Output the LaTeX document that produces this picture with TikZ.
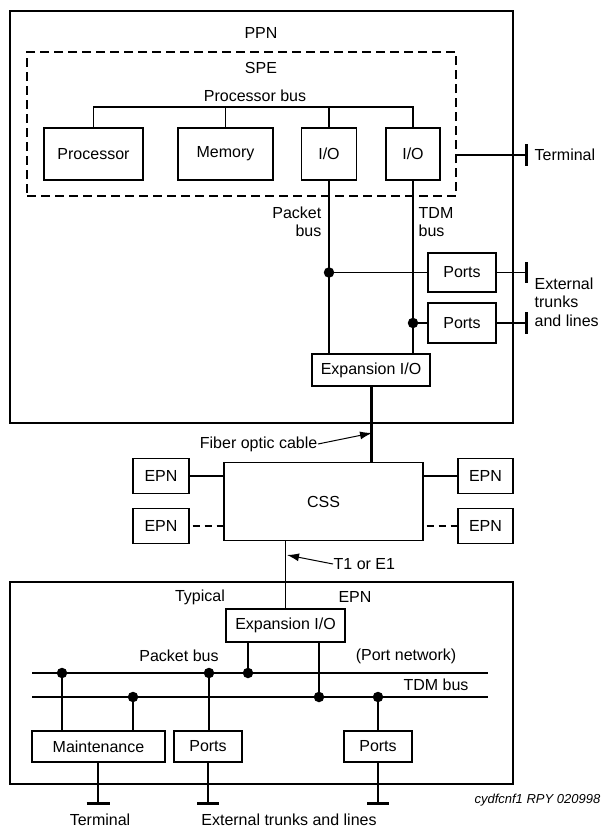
\documentclass[tikz,border=0pt]{standalone}
\usepackage{fontspec}
\setmainfont{Liberation Sans}
\usetikzlibrary{arrows.meta}

\begin{document}
\begin{tikzpicture}[x=1pt, y=-1pt, font=\fontsize{16}{18}\selectfont, line width=1.4pt]
        \useasboundingbox (0,0) rectangle (603,828);
        \begin{scope}[every node/.style={draw, line width=1.4pt, rectangle, inner sep=0}]
            \node [minimum width=503pt, minimum height=412pt] (ppn) at (261.5,217) {};
            \node [dash pattern=on 9pt off 5pt, line width=1.8pt, minimum width=429pt, minimum height=144pt] (spe) at (241.5,124) {};
            \node [minimum width=99pt, minimum height=52pt] (proc) at (93.5,154) {Processor};
            \node [minimum width=95pt, minimum height=52pt] (mem) at (225.5,154) {Memory};
            \node [minimum width=55pt, minimum height=52pt] (io1) at (329,154) {I/O};
            \node [minimum width=54pt, minimum height=52pt] (io2) at (413,154) {I/O};
            \node [minimum width=68pt, minimum height=39pt] (ports1) at (462,272.5) {Ports};
            \node [minimum width=68pt, minimum height=40pt] (ports2) at (462,323) {Ports};
            \node [minimum width=118pt, minimum height=32pt] (pexp) at (371,370) {Expansion I/O};
            \node [minimum width=199pt, minimum height=78pt] (css) at (323.5,501.5) {CSS};
            \node [minimum width=56pt, minimum height=35pt] (epnA) at (161,476) {EPN};
            \node [minimum width=56pt, minimum height=35pt] (epnB) at (161,526) {EPN};
            \node [minimum width=55pt, minimum height=35pt] (epnC) at (485.5,476) {EPN};
            \node [minimum width=55pt, minimum height=35pt] (epnD) at (485.5,526) {EPN};
            \node [minimum width=503pt, minimum height=202pt] (epn) at (261.5,683) {};
            \node [minimum width=119pt, minimum height=33pt] (eexp) at (285.5,625.5) {Expansion I/O};
            \node [minimum width=133pt, minimum height=31pt] (maint) at (98.5,746.5) {Maintenance};
            \node [minimum width=68pt, minimum height=31pt] (portsA) at (208,746.5) {Ports};
            \node [minimum width=68pt, minimum height=31pt] (portsB) at (378,746.5) {Ports};
        \end{scope}
        \begin{scope}[every node/.style={inner sep=0}]
            \node (ppnlbl) at (261,33) {PPN};
            \node (spelbl) at (261,68) {SPE};
            \node (pbuslbl) at (255,96) {Processor bus};
            \node [anchor=east, align=right] (pktlbl) at (322,222) {Packet\\bus};
            \node [anchor=west, align=left] (tdmlbl) at (418,222) {TDM\\bus};
            \node [anchor=west] (termlbl) at (534,155) {Terminal};
            \node [anchor=west, align=left, font=\fontsize{16}{18.5}\selectfont] (extlbl) at (534,302) {External\\trunks\\and lines};
            \node [anchor=east] (fiblbl) at (318,444) {Fiber optic cable};
            \node [anchor=west] (t1lbl) at (333,564) {T1 or E1};
            \node (typlbl) at (200,597) {Typical};
            \node (epnlbl) at (355,597) {EPN};
            \node (ebuslbl) at (179,656) {Packet bus};
            \node (pnetlbl) at (406,656) {(Port network)};
            \node (tbuslbl) at (436,685) {TDM bus};
            \node (bterm) at (100,820) {Terminal};
            \node (bext) at (289,820) {External trunks and lines};
            \node [anchor=east, font=\fontsize{13}{15}\selectfont\itshape] (code) at (601,800) {cydfcnf1 RPY 020998};
        \end{scope}
        \begin{scope}[every node/.style={circle, fill, inner sep=0, minimum size=10.5pt}]
            \node (d1) at (io1.south |- ports1) {};
            \node (d2) at (io2.south |- ports2) {};
            \node (m1) at (62,673) {};
            \node (m2) at (133,697) {};
            \node (pa) at (209,673) {};
            \node (e1) at (248,673) {};
            \node (e2) at (319,697) {};
            \node (pb) at (378,697) {};
        \end{scope}
        \coordinate (pbus) at (255,107);
        \coordinate (termT) at (526,155);
        \coordinate (t1) at (526,272.5);
        \coordinate (t2) at (526,323);
        \coordinate (fibtip) at (372,433);
        \coordinate (t1tip) at (287,555);
        \coordinate (pbL) at (32,673);
        \coordinate (pbR) at (488,673);
        \coordinate (tbL) at (32,697);
        \coordinate (tbR) at (488,697);
        \coordinate (bt1) at (98,803);
        \coordinate (bt2) at (208,803);
        \coordinate (bt3) at (378,803);
        \begin{scope}[every path/.style={line width=1.4pt}]
            \draw (proc.north) |- (pbus) -| (io2.north);
            \draw (mem.north) -- (mem.north |- pbus);
            \draw (io1.north) -- (io1.north |- pbus);
            \draw (spe.east |- termT) -- (termT);
            \draw (io1.south) -- (io1.south |- pexp.north);
            \draw (io2.south) -- (io2.south |- pexp.north);
            \draw (d1.center) -- (ports1.west);
            \draw (d2.center) -- (ports2.west);
            \draw (ports1.east) -- (t1);
            \draw (ports2.east) -- (t2);
            \draw (epnA.east) -- (epnA.east -| css.west);
            \draw (css.east |- epnC.west) -- (epnC.west);
            \draw (eexp.north |- css.south) -- (eexp.north);
            \draw (pbL) -- (pbR);
            \draw (tbL) -- (tbR);
            \draw (e1.center) -- (e1 |- eexp.south);
            \draw (e2.center) -- (e2 |- eexp.south);
            \draw (m1.center) -- (m1 |- maint.north);
            \draw (m2.center) -- (m2 |- maint.north);
            \draw (pa.center) -- (pa |- portsA.north);
            \draw (pb.center) -- (pb |- portsB.north);
            \draw (bt1 |- maint.south) -- (bt1);
            \draw (bt2 |- portsA.south) -- (bt2);
            \draw (bt3 |- portsB.south) -- (bt3);
        \end{scope}
        \begin{scope}[every path/.style={line width=1.4pt, dash pattern=on 7pt off 5pt, dash phase=-3pt}]
            \draw (epnB.east) -- (epnB.east -| css.west);
            \draw (css.east |- epnD.west) -- (epnD.west);
        \end{scope}
        \begin{scope}[every path/.style={line width=3pt}]
            \draw (pexp.south) -- (pexp.south |- css.north);
            \draw ([yshift=11pt]termT) -- ([yshift=-11pt]termT);
            \draw ([yshift=10.5pt]t1) -- ([yshift=-10.5pt]t1);
            \draw ([yshift=11pt]t2) -- ([yshift=-11pt]t2);
            \draw ([xshift=-11.5pt]bt1) -- ([xshift=11.5pt]bt1);
            \draw ([xshift=-11pt]bt2) -- ([xshift=11pt]bt2);
            \draw ([xshift=-11pt]bt3) -- ([xshift=11pt]bt3);
        \end{scope}
        \begin{scope}[every path/.style={line width=1pt, -{Latex[length=12pt, width=8pt]}}]
            \draw (fiblbl.east) -- (fibtip);
            \draw (t1lbl.west) -- (t1tip);
        \end{scope}
    \end{tikzpicture}
\end{document}
